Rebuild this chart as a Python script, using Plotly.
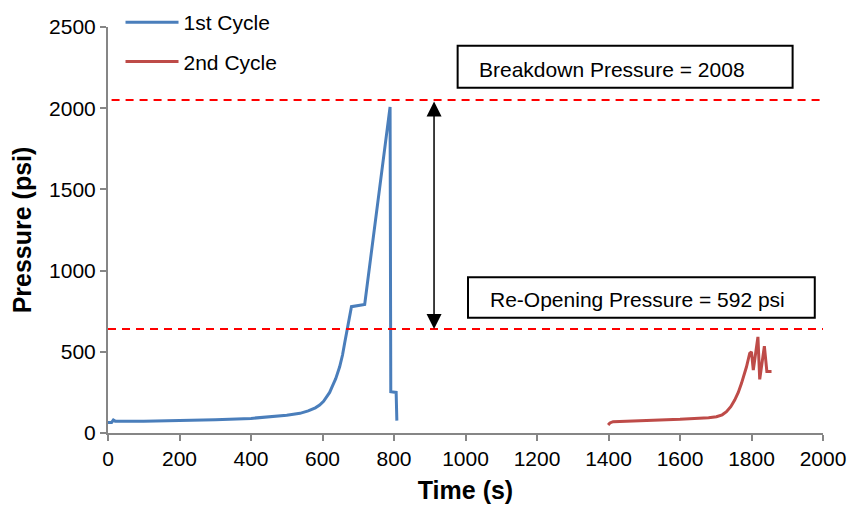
import plotly.graph_objects as go

# First injection cycle: time (s) and pressure (psi)
cycle1_time = [0, 10, 15, 20, 100, 200, 300, 400, 450, 500, 537, 560, 580, 592, 603,
               612, 620, 628, 637, 648, 656, 662, 668, 672, 677, 681, 718, 789, 791,
               806, 808]
cycle1_pressure = [65, 65, 80, 73, 73, 76, 82, 90, 98, 109, 121, 136, 155, 172, 195,
                   222, 250, 290, 335, 408, 480, 554, 620, 675, 740, 778, 792, 2008, 254,
                   250, 76]

# Second injection cycle (re-opening)
cycle2_time = [1399, 1404, 1413, 1506, 1600, 1680, 1702, 1718, 1730, 1742, 1753, 1763,
               1772, 1786, 1795, 1800, 1805, 1818, 1823, 1836, 1843, 1856]
cycle2_pressure = [49, 62, 70, 76, 84, 94, 100, 112, 131, 162, 203, 250,
                   306, 408, 491, 500, 388, 592, 330, 535, 378, 378]

# Reference levels and annotation texts
breakdown_level = 2050
reopening_level = 640
breakdown_text = "Breakdown Pressure = 2008"
reopening_text = "Re-Opening Pressure = 592 psi"

x_ticks = [0, 200, 400, 600, 800, 1000, 1200, 1400, 1600, 1800, 2000]
y_ticks = [0, 500, 1000, 1500, 2000, 2500]

BLUE = "#4A7EBB"
RED = "#BE4B48"
AXIS = "#868686"
FONT = "Liberation Sans, Arial, sans-serif"

fig = go.Figure()
fig.add_trace(go.Scatter(x=cycle1_time, y=cycle1_pressure, mode="lines", name="1st Cycle",
                         line=dict(color=BLUE, width=3), legendgroup="a"))
fig.add_trace(go.Scatter(x=cycle2_time, y=cycle2_pressure, mode="lines", name="2nd Cycle",
                         line=dict(color=RED, width=3), legendgroup="b"))

# Dashed reference lines
fig.add_shape(type="line", x0=10, x1=1992, y0=breakdown_level, y1=breakdown_level,
              xref="x", yref="y", line=dict(color="#FF0000", width=2, dash="8px,6px"))
fig.add_shape(type="line", x0=0, x1=2000, y0=reopening_level, y1=reopening_level,
              xref="x", yref="y", line=dict(color="#FF0000", width=2, dash="8px,6px"))

# Double-headed arrow between the two levels
fig.add_annotation(x=912, y=reopening_level, ax=912, ay=breakdown_level,
                   xref="x", yref="y", axref="x", ayref="y", text="",
                   showarrow=True, arrowhead=2, startarrowhead=2, arrowside="end+start",
                   arrowsize=2, startarrowsize=2, arrowwidth=1.5, arrowcolor="black",
                   standoff=0, startstandoff=0)

# Text boxes
fig.add_shape(type="rect", x0=978, x1=1915, y0=2126, y1=2385, xref="x", yref="y",
              line=dict(color="black", width=2), fillcolor="white")
fig.add_annotation(x=1409, y=2241, xref="x", yref="y", text=breakdown_text,
                   showarrow=False, font=dict(family=FONT, size=21, color="black"))
fig.add_shape(type="rect", x0=1007, x1=1977, y0=710, y1=959, xref="x", yref="y",
              line=dict(color="black", width=2), fillcolor="white")
fig.add_annotation(x=1481, y=819, xref="x", yref="y", text=reopening_text,
                   showarrow=False, font=dict(family=FONT, size=21, color="black"))

fig.update_layout(
    width=850, height=507,
    margin=dict(l=108, r=27, t=27, b=74, autoexpand=False),
    paper_bgcolor="white", plot_bgcolor="white",
    font=dict(family=FONT, size=21, color="black"),
    showlegend=True,
    legend=dict(x=0.0175, y=1.0616, xanchor="left", yanchor="top", itemwidth=53,
                bgcolor="rgba(0,0,0,0)", borderwidth=0, tracegroupgap=9,
                font=dict(family=FONT, size=21, color="black")),
)
fig.update_xaxes(range=[0, 2000], tickvals=x_ticks, ticktext=[str(v) for v in x_ticks],
                 showgrid=False, zeroline=False, showline=True, linecolor=AXIS, linewidth=2,
                 ticks="outside", ticklen=6, tickwidth=2, tickcolor=AXIS,
                 tickfont=dict(family=FONT, size=21),
                 title=dict(text="<b>Time (s)</b>", font=dict(family=FONT, size=25), standoff=12))
fig.update_yaxes(range=[0, 2500], tickvals=y_ticks, ticktext=[str(v) for v in y_ticks],
                 showgrid=False, zeroline=False, showline=True, linecolor=AXIS, linewidth=2,
                 ticks="outside", ticklen=6, tickwidth=2, tickcolor=AXIS,
                 tickfont=dict(family=FONT, size=21),
                 title=dict(text="<b>Pressure (psi)</b>", font=dict(family=FONT, size=25), standoff=10))

fig.write_html("out.html")
